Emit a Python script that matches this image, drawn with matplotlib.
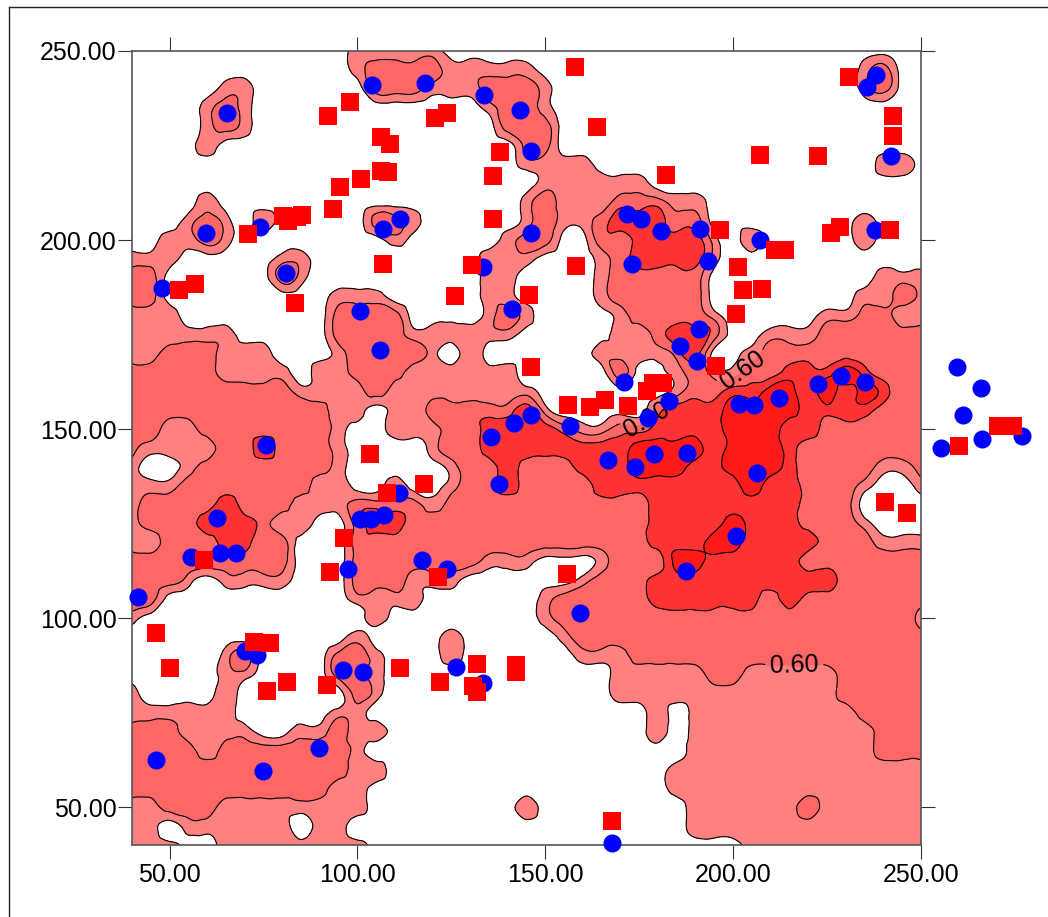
import numpy as np
import matplotlib
matplotlib.use('Agg')
import matplotlib.pyplot as plt
import matplotlib.tri as mtri
from matplotlib.lines import Line2D

plt.rcParams['font.family'] = ['Liberation Sans', 'DejaVu Sans']

# field class on a 5 unit grid, top row is y=250, "class:count"
grid_runs = [
    "0:12 1:5 0:26",
    "0:12 1:1 2:4 1:5 0:17 1:1 2:1 0:2",
    "0:5 1:2 0:6 2:3 1:3 2:3 1:1 0:16 1:1 2:1 0:2",
    "0:4 1:1 2:1 1:1 0:12 1:1 2:2 1:1 0:20",
    "0:4 1:1 2:1 1:1 0:13 2:3 0:20",
    "0:4 1:1 0:16 2:2 0:20",
    "0:21 1:4 0:15 1:2 0:1",
    "0:22 1:6 0:15",
    "0:4 1:1 0:16 1:1 2:1 1:3 2:3 1:2 0:12",
    "0:3 1:1 2:1 1:1 0:1 1:1 0:5 2:2 1:1 0:5 1:1 2:1 1:2 2:1 3:3 2:2 0:8 1:1 0:3",
    "0:2 1:2 2:1 1:1 0:8 1:1 0:5 1:1 2:2 0:2 2:2 3:4 1:1 0:1 1:1 0:5 1:1 0:3",
    "1:3 0:5 1:2 0:9 1:3 0:3 1:1 2:1 3:4 1:1 0:11",
    "2:2 0:6 2:1 1:1 0:9 1:2 0:4 1:1 2:5 0:9 1:3",
    "2:2 0:9 1:3 0:5 1:2 0:4 1:1 2:5 0:8 1:2 2:1 1:1",
    "1:3 0:8 2:4 0:4 1:1 2:1 1:1 0:4 1:1 2:4 1:1 0:5 1:2 2:2 1:2",
    "1:6 0:5 2:4 1:6 0:5 1:2 2:1 3:2 2:1 0:2 1:3 2:6",
    "1:2 2:3 1:3 0:3 1:1 2:4 1:1 0:1 1:1 0:6 1:4 2:1 3:1 0:2 1:1 2:9",
    "2:5 1:4 0:1 1:2 2:3 1:6 0:5 2:1 0:2 1:1 2:1 1:2 2:2 3:3 4:1 3:1 2:3",
    "2:9 1:4 2:1 1:8 0:7 1:1 2:2 3:2 4:2 3:1 4:1 3:1 4:1 3:1 2:2",
    "2:11 1:2 0:1 1:2 2:5 3:1 1:1 0:5 2:1 3:3 4:4 3:4 2:3",
    "2:2 1:2 2:7 1:1 0:2 1:3 2:2 3:4 2:1 1:2 2:2 3:4 4:3 3:2 2:6",
    "2:1 1:4 2:2 3:1 2:3 1:1 0:4 1:1 2:2 3:8 4:4 3:1 4:3 3:1 2:7",
    "1:1 0:2 1:1 2:7 1:1 0:5 1:1 2:2 3:1 2:3 3:3 4:3 3:2 4:3 3:1 2:4 1:2 2:1",
    "1:3 2:7 1:2 0:2 1:1 0:2 1:1 2:2 3:1 2:4 3:8 4:1 3:2 2:3 1:1 0:2 1:1",
    "1:1 2:4 3:1 2:3 1:3 2:4 1:1 2:11 3:8 2:3 0:4",
    "1:1 2:3 3:3 2:1 1:2 0:2 2:1 3:2 2:13 3:4 4:1 3:3 2:3 1:1 0:3",
    "1:2 2:3 3:2 2:2 0:3 2:16 3:3 4:2 3:4 2:3 1:3",
    "2:9 0:3 2:7 1:3 0:3 1:1 2:3 4:2 3:5 2:7",
    "2:3 1:1 0:1 1:4 0:3 2:3 1:3 0:6 1:1 2:3 3:10 2:5",
    "2:2 0:10 1:4 0:6 1:1 2:5 3:6 2:1 3:1 2:7",
    "1:1 0:12 1:1 0:8 1:1 2:19 1:1",
    "0:12 1:1 0:4 1:1 0:5 1:1 2:8 2:1 2:10",
    "0:5 1:1 2:1 0:4 2:2 1:1 0:3 1:1 0:6 1:3 2:16",
    "0:5 1:2 0:4 2:2 1:1 0:12 1:5 2:2 1:5 2:5",
    "1:1 0:4 1:1 0:6 2:1 1:1 0:12 1:12 2:5",
    "1:6 0:5 1:2 0:15 1:1 0:1 1:9 2:4",
    "2:3 1:4 0:2 1:2 2:1 1:2 0:14 1:1 0:1 1:10 2:3",
    "2:4 1:1 2:7 1:1 0:17 1:10 2:3",
    "2:12 1:2 0:15 1:14",
    "2:11 1:2 0:16 1:14",
    "1:2 2:3 1:8 0:8 1:1 0:8 1:6 2:1 1:6",
    "1:2 0:1 1:6 0:1 1:2 0:18 1:13",
    "1:3 0:2 1:8 0:20 1:10",
]

blue_x = [103.8, 117.9, 133.6, 143.2, 146.1, 65.2, 59.6, 74, 80.9, 106.7, 111.2, 133.4, 146.1, 141.1, 47.9,
          100.6, 105.9, 146.1, 141.6, 135.5, 75.6, 171.7, 175.4, 180.8, 191.1, 193.3, 173, 190.9, 185.8, 190.3,
          170.9, 177.3, 201.5, 205.5, 212.2, 222.6, 228.7, 235.1, 238, 235.6, 242, 207.1, 237.7, 259.6, 266,
          261.2, 266.2, 276.9, 255.3, 156.5, 166.6, 173.8, 178.9, 187.7, 206.3, 200.7, 187.4, 159.2, 167.7, 62.5,
          55.6, 63.3, 67.6, 41.7, 137.6, 111, 107, 103.5, 100.6, 117.1, 123.8, 97.4, 70, 73.2, 96.1,
          101.4, 126.2, 133.4, 89.9, 46.5, 74.8]
blue_y = [241, 241.5, 238.4, 234.4, 223.6, 233.6, 201.9, 203.5, 191.3, 203, 205.6, 192.9, 201.9, 181.8, 187.4,
          181.3, 171, 153.6, 151.7, 147.8, 145.9, 206.9, 205.6, 202.4, 203, 194.5, 193.7, 176.6, 172.1, 168.1,
          162.5, 153, 156.7, 156.5, 158.1, 161.8, 164.1, 162.5, 243.7, 240.5, 222.3, 200.1, 202.7, 166.5, 161,
          153.6, 147.5, 148.3, 145.1, 150.7, 141.9, 140.1, 143.5, 143.8, 138.5, 121.6, 112.6, 101.3, 40.5, 126.4,
          116.3, 117.1, 117.1, 105.5, 135.6, 133, 127.4, 126.1, 126.1, 115.3, 112.9, 112.9, 91.2, 90.2, 86.2,
          85.7, 87, 82.8, 65.6, 62.4, 59.5]
# these ones sit on top of the squares
blue_top_x = [182.9]
blue_top_y = [157.5]

red_x = [97.9, 92.1, 120.6, 123.8, 106.2, 108.6, 137.9, 106.2, 108.1, 136, 100.9, 95.3, 93.4, 80.1, 81.4,
         83.8, 85.2, 70.8, 136, 106.7, 130.4, 56.9, 52.4, 125.9, 83.3, 145.6, 146.1, 157.9, 163.7, 182.1,
         196.5, 207.1, 222.6, 230.8, 242.5, 242.5, 228.4, 226, 241.7, 211.1, 213.8, 201.3, 158.1, 202.6, 207.6,
         200.7, 195.4, 156, 161.8, 165.8, 172, 177, 178.6, 181.3, 260.1, 270.5, 274.5, 103.3, 117.6, 107.8,
         96.3, 92.6, 59.1, 121.4, 46.3, 50, 72.6, 76.6, 81.2, 75.8, 91.8, 111.2, 121.9, 131.8, 130.7,
         131.8, 142.1, 142.1, 155.7, 240.4, 246.3, 167.7]
red_y = [236.5, 232.8, 232.3, 233.6, 227.3, 225.4, 223.3, 218.3, 218, 217, 216.2, 214.1, 208.3, 206.4, 205.1,
         206.1, 206.7, 201.7, 205.6, 193.7, 193.5, 188.4, 186.9, 185.3, 183.4, 185.5, 166.5, 245.8, 229.9, 217.2,
         202.7, 222.5, 222.3, 243.1, 232.8, 227.5, 203.5, 201.9, 202.7, 197.4, 197.4, 192.9, 193.2, 186.9, 187.1,
         180.5, 166.8, 156.5, 155.9, 157.8, 156.2, 160.2, 162.3, 162.3, 145.4, 150.9, 150.9, 143.3, 135.6, 133,
         121.3, 112.1, 115.3, 111, 96.2, 86.7, 93.6, 93.3, 83, 80.6, 82.2, 86.7, 83, 87.8, 82,
         80.4, 87.5, 85.7, 111.8, 130.6, 127.9, 46.3]

ticks = [50, 100, 150, 200, 250]
levels = [0.55, 0.60, 0.65, 0.70, 2.0]
fill_colors = ['#ff8080', '#ff6666', '#ff3333', '#ff1a1a']
label_spots = [(202, 166), (175.2, 154), (216.4, 88.3)]

classes = []
for row in grid_runs:
    vals = []
    for run in row.split():
        c, n = run.split(':')
        vals += [int(c)] * int(n)
    classes.append(vals)
z = 0.525 + 0.05 * np.array(classes)
xg = np.arange(40, 255, 5)
yg = np.arange(250, 35, -5)
X, Y = np.meshgrid(xg, yg)

# let matplotlib's tri refiner round off the contour lines between the grid values
tri = mtri.Triangulation(X.ravel(), Y.ravel())
tri_fine, z_fine = mtri.UniformTriRefiner(tri).refine_field(z.ravel(), subdiv=3)

# the cubic fit overshoots, keep it inside the 4 grid values around each point
i = np.clip(((tri_fine.x - 40) / 5).astype(int), 0, len(xg) - 2)
j = np.clip(((250 - tri_fine.y) / 5).astype(int), 0, len(yg) - 2)
corners = np.array([z[j, i], z[j, i + 1], z[j + 1, i], z[j + 1, i + 1]])
z_fine = np.clip(z_fine, corners.min(axis=0), corners.max(axis=0))

fig = plt.figure(figsize=(10.48, 9.17), dpi=100)
ax = fig.add_axes([132 / 1048, 72 / 917, 789 / 1048, 794 / 917])
ax.set_xlim(40, 250)
ax.set_ylim(40, 250)

ax.tricontourf(tri_fine, z_fine, levels=levels, colors=fill_colors)
ax.tricontour(tri_fine, z_fine, levels=[0.55, 0.65, 0.70], colors='black', linewidths=0.8)
# 0.60 gets its own contour set so clabel can place the labels on it
cs60 = ax.tricontour(tri_fine, z_fine, levels=[0.60], colors='black', linewidths=0.8)
ax.clabel(cs60, manual=label_spots, fmt='%.2f', fontsize=18, colors='black')

ax.scatter(blue_x, blue_y, s=169, c='#0000ff', marker='o', linewidths=0, clip_on=False, zorder=5)
ax.scatter(red_x, red_y, s=169, c='#ff0000', marker='s', linewidths=0, clip_on=False, zorder=6)
ax.scatter(blue_top_x, blue_top_y, s=169, c='#0000ff', marker='o', linewidths=0, clip_on=False, zorder=7)

ax.set_xticks(ticks)
ax.set_yticks(ticks)
ax.set_xticklabels(['%.2f' % t for t in ticks])
ax.set_yticklabels(['%.2f' % t for t in ticks])
ax.tick_params(axis='both', direction='out', length=10, width=0.8, labelsize=18, color='#333333',
               top=True, right=True, labeltop=False, labelright=False)
ax.tick_params(axis='x', pad=3)
ax.tick_params(axis='y', pad=1)
for s in ax.spines.values():
    s.set_color('#555555')
    s.set_linewidth(1.2)

# page frame, only left and top show inside the picture
fig.add_artist(Line2D([9 / 1048, 9 / 1048], [0, 1 - 7 / 917], color='#222222', lw=1))
fig.add_artist(Line2D([9 / 1048, 1], [1 - 7 / 917, 1 - 7 / 917], color='#222222', lw=1))

fig.savefig('out.png', dpi=100)
